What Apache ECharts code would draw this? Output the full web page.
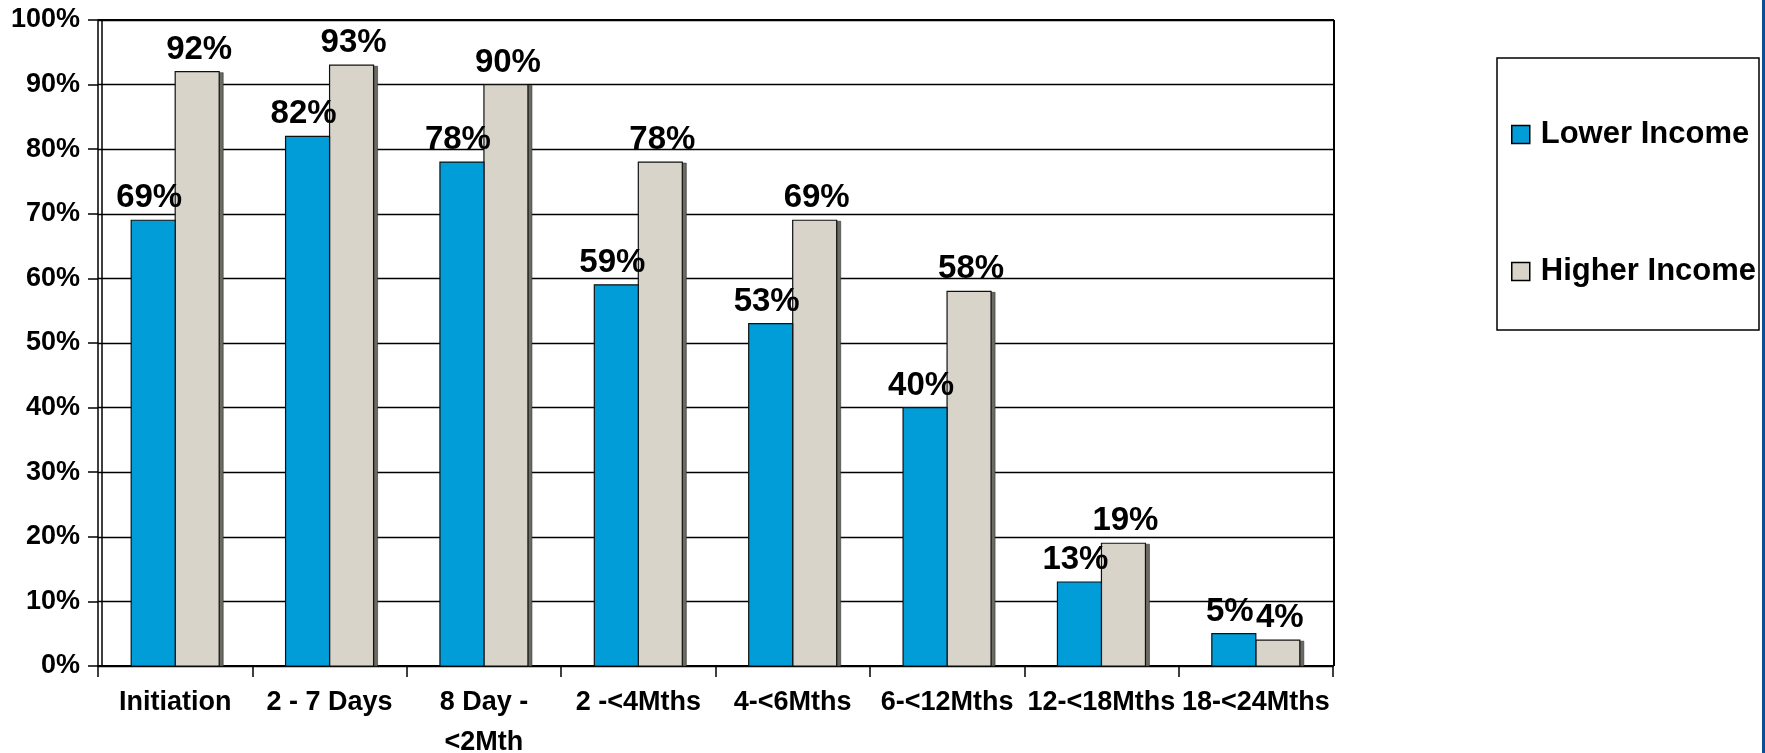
<!DOCTYPE html>
<html>
<head>
<meta charset="utf-8">
<script src="https://cdn.jsdelivr.net/npm/echarts@6/dist/echarts.min.js"></script>
<style>
html,body{margin:0;padding:0;background:#fff;}
#c{width:1765px;height:753px;}
</style>
</head>
<body>
<div id="c"></div>
<script>
const categories = ['Initiation', '2 - 7 Days', '8 Day -\n<2Mth', '2 -<4Mths', '4-<6Mths', '6-<12Mths', '12-<18Mths', '18-<24Mths'];
const lowerIncome = [69, 82, 78, 59, 53, 40, 13, 5];
const higherIncome = [92, 93, 90, 78, 69, 58, 19, 4];
const yTicks = [0, 10, 20, 30, 40, 50, 60, 70, 80, 90, 100];

const FONT = '"Liberation Sans", Arial, sans-serif';
const BAR_W = 44;
const chart = echarts.init(document.getElementById('c'), null, {renderer: 'canvas'});

function makeRender(side, sideColor, labelDx) {
  return function (params, api) {
    const ci = api.value(0);
    const v = api.value(1);
    const top = api.coord([ci, v]);
    const base = api.coord([ci, 0]);
    const x = side < 0 ? top[0] - BAR_W : top[0];
    const h = base[1] - top[1];
    const children = [];
    if (sideColor) {
      children.push({
        type: 'rect',
        shape: {x: x + BAR_W, y: top[1] + 1, width: 4, height: h - 1},
        style: {fill: sideColor, stroke: '#333', lineWidth: 0.6}
      });
    }
    children.push({
      type: 'rect',
      shape: {x: x, y: top[1], width: BAR_W, height: h},
      style: {fill: api.visual('color'), stroke: '#111', lineWidth: 1.2},
      textContent: {
        type: 'text',
        style: {text: v + '%', fontFamily: FONT, fontWeight: 'bold', fontSize: 33, fill: '#000'}
      },
      textConfig: {position: 'top', distance: 5, offset: [labelDx, 0]}
    });
    return {type: 'group', children: children};
  };
}

chart.setOption({
  animation: false,
  backgroundColor: '#fff',
  grid: {left: 98, top: 20, width: 1235, height: 646, show: false, containLabel: false, outerBoundsMode: 'none'},
  legend: {
    orient: 'vertical',
    left: 1506,
    top: 114,
    itemGap: 106,
    itemWidth: 18,
    itemHeight: 18,
    icon: 'rect',
    itemStyle: {borderColor: '#000', borderWidth: 1.5},
    textStyle: {fontFamily: FONT, fontWeight: 'bold', fontSize: 31, color: '#000', lineHeight: 30, padding: [0, 0, 0, 6]},
    data: ['Lower Income', 'Higher Income']
  },
  xAxis: {
    type: 'category',
    data: categories,
    boundaryGap: true,
    axisLine: {show: true, lineStyle: {color: '#000', width: 2}},
    axisTick: {show: true, length: 11, lineStyle: {color: '#000', width: 1.5}},
    axisLabel: {
      interval: 0,
      margin: 17,
      fontFamily: FONT,
      fontWeight: 'bold',
      fontSize: 27,
      lineHeight: 40,
      color: '#000'
    },
    splitLine: {show: false}
  },
  yAxis: {
    type: 'value',
    min: 0,
    max: 100,
    interval: 10,
    axisLine: {show: true, lineStyle: {color: '#000', width: 1.5}},
    axisTick: {show: true, length: 10, lineStyle: {color: '#000', width: 1.5}},
    axisLabel: {
      margin: 18,
      fontFamily: FONT,
      fontWeight: 'bold',
      fontSize: 27,
      color: '#000',
      formatter: function (v) { return yTicks.indexOf(v) >= 0 ? v + '%' : ''; }
    },
    splitLine: {show: true, lineStyle: {color: '#000', width: 1.3}}
  },
  series: [
    {
      name: 'Lower Income',
      type: 'custom',
      itemStyle: {color: '#009DD9'},
      data: lowerIncome.map(function (v, i) { return [i, v]; }),
      encode: {x: 0, y: 1},
      renderItem: makeRender(-1, null, -4),
      z: 3
    },
    {
      name: 'Higher Income',
      type: 'custom',
      itemStyle: {color: '#D8D4CA'},
      data: higherIncome.map(function (v, i) { return [i, v]; }),
      encode: {x: 0, y: 1},
      renderItem: makeRender(1, '#6b6b64', 2),
      z: 2
    }
  ],
  graphic: [
    {type: 'line', shape: {x1: 102, y1: 20, x2: 102, y2: 666}, style: {stroke: '#000', lineWidth: 1.5}, z: 10},
    {type: 'line', shape: {x1: 98, y1: 20, x2: 1334, y2: 20}, style: {stroke: '#000', lineWidth: 2}, z: 10},
    {type: 'line', shape: {x1: 1334, y1: 20, x2: 1334, y2: 666}, style: {stroke: '#000', lineWidth: 2}, z: 10},
    {type: 'rect', shape: {x: 1497, y: 58, width: 262, height: 272}, style: {fill: 'none', stroke: '#000', lineWidth: 1.5}, z: 10},
    {type: 'rect', shape: {x: 1762, y: 0, width: 3, height: 753}, style: {fill: '#0B4E9C'}, z: 10}
  ]
});
</script>
</body>
</html>
